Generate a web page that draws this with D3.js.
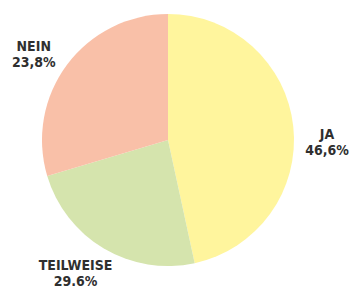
<!DOCTYPE html>
<html>
<head>
<meta charset="utf-8">
<script src="https://cdn.jsdelivr.net/npm/d3@7"></script>
<style>
  body { margin: 0; background: #fff; }
  svg { display: block; }
  .lbl { font-family: "DejaVu Sans Condensed", "DejaVu Sans", sans-serif; font-weight: bold; font-size: 14px; fill: #2f2f2f; }
</style>
</head>
<body>
<svg id="chart" width="360" height="289"></svg>
<script>
// slices, clockwise from 12 o'clock
const categories = ["JA", "TEILWEISE", "NEIN"];
const values = [46.6, 23.8, 29.6];
const valueLabels = ["46,6%", "29.6%", "23,8%"];
const colors = ["#fff59d", "#d5e4ad", "#f9c0a8"];

const width = 360, height = 289;
const cx = 168, cy = 140, radius = 126;

const svg = d3.select("#chart");
const g = svg.append("g").attr("transform", `translate(${cx},${cy})`);

const pie = d3.pie().sort(null).value(d => d.value);
const data = categories.map((c, i) => ({name: c, value: values[i], label: valueLabels[i], color: colors[i]}));
const arcs = pie(data);

const arc = d3.arc().innerRadius(0).outerRadius(radius);
const labelArc = d3.arc().innerRadius(160).outerRadius(160);

g.selectAll(".slice")
    .data(arcs)
    .join("path")
    .attr("class", "slice")
    .attr("d", arc)
    .attr("fill", d => d.data.color);

// nudges of each label block off its centroid
const nudge = {"JA": [0, 17], "TEILWEISE": [-11, -7], "NEIN": [-6, 8]};

const labels = g.selectAll(".lbl")
    .data(arcs)
    .join("text")
    .attr("class", "lbl")
    .attr("text-anchor", "middle")
    .attr("transform", d => {
        let [x, y] = labelArc.centroid(d);
        let [dx, dy] = nudge[d.data.name];
        return `translate(${x + dx},${y + dy})`;
    });

labels.append("tspan").attr("x", 0).attr("dy", -1).text(d => d.data.name);
labels.append("tspan").attr("x", 0).attr("dy", 16).text(d => d.data.label);
</script>
</body>
</html>
